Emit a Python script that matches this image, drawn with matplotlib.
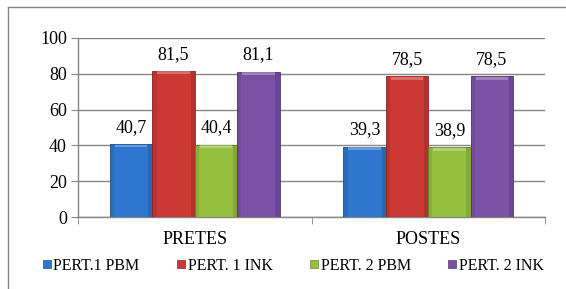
import matplotlib.pyplot as plt
import numpy as np
from matplotlib.lines import Line2D

categories = ["PRETES", "POSTES"]
series_names = ["PERT.1 PBM", "PERT. 1 INK", "PERT. 2 PBM", "PERT. 2 INK"]
pert1_pbm = [40.7, 39.3]
pert1_ink = [81.5, 78.5]
pert2_pbm = [40.4, 38.9]
pert2_ink = [81.1, 78.5]
yticks = [0, 20, 40, 60, 80, 100]

series_values = [pert1_pbm, pert1_ink, pert2_pbm, pert2_ink]
colors = ["#2F76CE", "#CB3935", "#95C03D", "#7B51A6"]
edge_colors = ["#1F5296", "#922623", "#6A8B27", "#553773"]

plt.rcParams["font.family"] = ["Liberation Serif", "DejaVu Serif"]

fig = plt.figure(figsize=(5.66, 2.89), dpi=100)
ax = fig.add_axes([78 / 566, 1 - 217 / 289, 467 / 566, 179 / 289])

x = np.arange(len(categories))
width = 0.182
offsets = (np.arange(4) - 1.5) * width

for vals, off, c, ec in zip(series_values, offsets, colors, edge_colors):
    bars = ax.bar(x + off, vals, width, color=c, edgecolor=ec, linewidth=0.6, zorder=3)
    # light bevel on top of each bar
    for b in bars:
        bx, bw, bh = b.get_x(), b.get_width(), b.get_height()
        ax.fill_between([bx + bw * 0.12, bx + bw * 0.88], bh - 1.8, bh - 0.2,
                        color="white", alpha=0.28, lw=0, zorder=4)
        ax.fill_between([bx, bx + bw * 0.1], 0, bh, color="black", alpha=0.08, lw=0, zorder=4)
        ax.fill_between([bx + bw * 0.9, bx + bw], 0, bh, color="black", alpha=0.12, lw=0, zorder=4)
    for xi, v in zip(x + off, vals):
        ax.annotate(f"{v:.1f}".replace(".", ","), (xi, v), xytext=(0, 6),
                    textcoords="offset points", ha="center", va="bottom", fontsize=13)

ax.set_xlim(-0.5, 1.5)
ax.set_ylim(0, 100)
ax.set_yticks(yticks)
ax.tick_params(axis="y", labelsize=13, length=5, color="#868686", pad=3)
ax.set_xticks(x)
ax.set_xticklabels(categories, fontsize=13)
ax.set_xticks([-0.5, 0.5, 1.5], minor=True)
ax.tick_params(axis="x", which="major", length=0, pad=10)
ax.tick_params(axis="x", which="minor", length=5, color="#868686")

ax.grid(axis="y", color="#868686", linewidth=1.0, zorder=0)
for s in ["top", "right"]:
    ax.spines[s].set_visible(False)
for s in ["left", "bottom"]:
    ax.spines[s].set_color("#868686")
    ax.spines[s].set_linewidth(1.0)

handles = [Line2D([], [], marker="s", linestyle="none", markersize=5.5,
                  markerfacecolor=c, markeredgecolor=ec, markeredgewidth=0.5)
           for c, ec in zip(colors, edge_colors)]
fig.legend(handles, series_names, loc="center", ncol=4, frameon=False,
           bbox_to_anchor=(293 / 566, 1 - 266 / 289), fontsize=11.5,
           handlelength=0.6, handletextpad=0.1, columnspacing=2.3)

# outer chart border (top and left visible)
fig.add_artist(Line2D([8 / 566, 8 / 566], [0, 1 - 7 / 289], color="#868686", lw=1.0))
fig.add_artist(Line2D([8 / 566, 1], [1 - 7 / 289, 1 - 7 / 289], color="#868686", lw=1.0))

fig.savefig("out.png", dpi=100)
